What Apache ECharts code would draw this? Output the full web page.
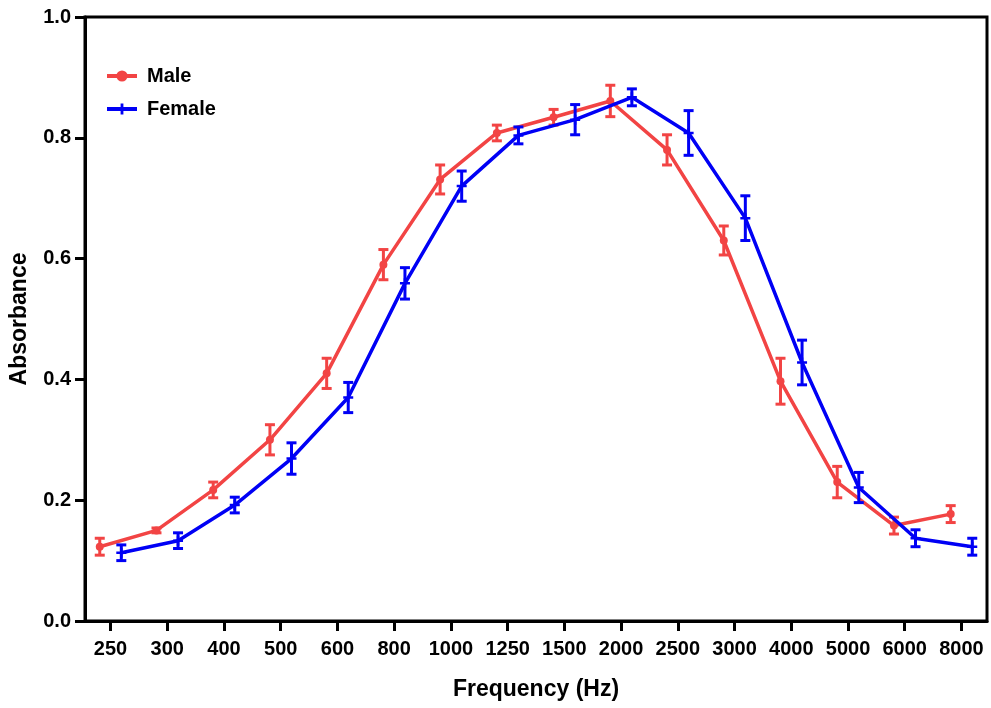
<!DOCTYPE html>
<html>
<head>
<meta charset="utf-8">
<script src="https://cdn.jsdelivr.net/npm/echarts@6/dist/echarts.min.js"></script>
<style>html,body{margin:0;padding:0;background:#fff}#c{width:991px;height:708px}</style>
</head>
<body>
<div id="c"></div>
<script>
var freqLabels = ['250','300','400','500','600','800','1000','1250','1500','2000','2500','3000','4000','5000','6000','8000'];
var maleMean = [0.123,0.150,0.217,0.300,0.410,0.590,0.731,0.808,0.834,0.861,0.780,0.630,0.397,0.230,0.158,0.177];
var maleErr  = [0.014,0.004,0.013,0.025,0.025,0.025,0.024,0.013,0.013,0.026,0.025,0.024,0.038,0.026,0.014,0.014];
var femaleMean = [0.113,0.133,0.192,0.269,0.370,0.559,0.720,0.804,0.830,0.867,0.808,0.667,0.428,0.221,0.137,0.123];
var femaleErr  = [0.013,0.013,0.013,0.026,0.025,0.026,0.025,0.014,0.025,0.014,0.037,0.037,0.037,0.025,0.014,0.014];

var MALE_COLOR = '#F24444';
var FEMALE_COLOR = '#0000F5';
var OFFSET = 0.19;
var FONT = '"Liberation Sans", Arial, sans-serif';

function pts(mean, off) { return mean.map(function (v, i) { return [i + off, v]; }); }
function errs(mean, err, off) { return mean.map(function (v, i) { return [i + off, v - err[i], v + err[i]]; }); }

function errRender(color) {
  return function (params, api) {
    var x = api.value(0);
    var lo = api.coord([x, api.value(1)]);
    var hi = api.coord([x, api.value(2)]);
    var w = 5;
    var style = { stroke: color, lineWidth: 3 };
    return {
      type: 'group',
      children: [
        { type: 'line', shape: { x1: lo[0], y1: lo[1], x2: hi[0], y2: hi[1] }, style: style },
        { type: 'line', shape: { x1: lo[0] - w, y1: lo[1], x2: lo[0] + w, y2: lo[1] }, style: style },
        { type: 'line', shape: { x1: hi[0] - w, y1: hi[1], x2: hi[0] + w, y2: hi[1] }, style: style }
      ]
    };
  };
}

var idx = freqLabels.map(function (_, i) { return i; });
var plusPath = 'path://M3,0H5V3H8V5H5V8H3V5H0V3H3Z';

var chart = echarts.init(document.getElementById('c'), null, { renderer: 'canvas' });
chart.setOption({
  animation: false,
  backgroundColor: '#fff',
  textStyle: { fontFamily: FONT },
  grid: { left: 84, right: 4, top: 17, bottom: 87, show: true, borderColor: '#000', borderWidth: 3, backgroundColor: 'transparent' },
  legend: {
    left: 100, top: 61, orient: 'vertical', itemGap: 13, itemWidth: 30, itemHeight: 14,
    lineStyle: { width: 4 },
    textStyle: { fontSize: 20, fontWeight: 'bold', color: '#000', fontFamily: FONT, padding: [0, 0, 0, 5] },
    data: ['Male', 'Female']
  },
  xAxis: {
    type: 'value', min: -0.45, max: 15.45,
    name: 'Frequency (Hz)', nameLocation: 'middle', nameGap: 57,
    nameTextStyle: { fontSize: 23, fontWeight: 'bold', color: '#000', fontFamily: FONT },
    axisLine: { show: true, onZero: false, lineStyle: { color: '#000', width: 3 } },
    axisTick: { show: true, customValues: idx, length: 10, lineStyle: { color: '#000', width: 3 } },
    axisLabel: { customValues: idx, margin: 18, fontSize: 20, fontWeight: 'bold', color: '#000', fontFamily: FONT,
      formatter: function (v) { return freqLabels[Math.round(v)]; } },
    splitLine: { show: false }
  },
  yAxis: {
    type: 'value', min: 0, max: 1, interval: 0.2,
    name: 'Absorbance', nameLocation: 'middle', nameGap: 54,
    nameTextStyle: { fontSize: 23, fontWeight: 'bold', color: '#000', fontFamily: FONT },
    axisLine: { show: true, onZero: false, lineStyle: { color: '#000', width: 3 } },
    axisTick: { show: true, length: 10, lineStyle: { color: '#000', width: 3 } },
    axisLabel: { margin: 14, fontSize: 20, fontWeight: 'bold', color: '#000', fontFamily: FONT,
      formatter: function (v) { return v.toFixed(1); } },
    splitLine: { show: false }
  },
  series: [
    { name: 'Male', type: 'line', data: pts(maleMean, -OFFSET), symbol: 'circle', symbolSize: 8,
      itemStyle: { color: MALE_COLOR }, lineStyle: { color: MALE_COLOR, width: 3.5 }, z: 3 },
    { name: 'Female', type: 'line', data: pts(femaleMean, OFFSET), symbol: plusPath, symbolSize: 10,
      itemStyle: { color: FEMALE_COLOR }, lineStyle: { color: FEMALE_COLOR, width: 3.5 }, z: 4 },
    { name: 'MaleErr', type: 'custom', data: errs(maleMean, maleErr, -OFFSET), renderItem: errRender(MALE_COLOR), z: 3 },
    { name: 'FemaleErr', type: 'custom', data: errs(femaleMean, femaleErr, OFFSET), renderItem: errRender(FEMALE_COLOR), z: 4 }
  ]
});
</script>
</body>
</html>
